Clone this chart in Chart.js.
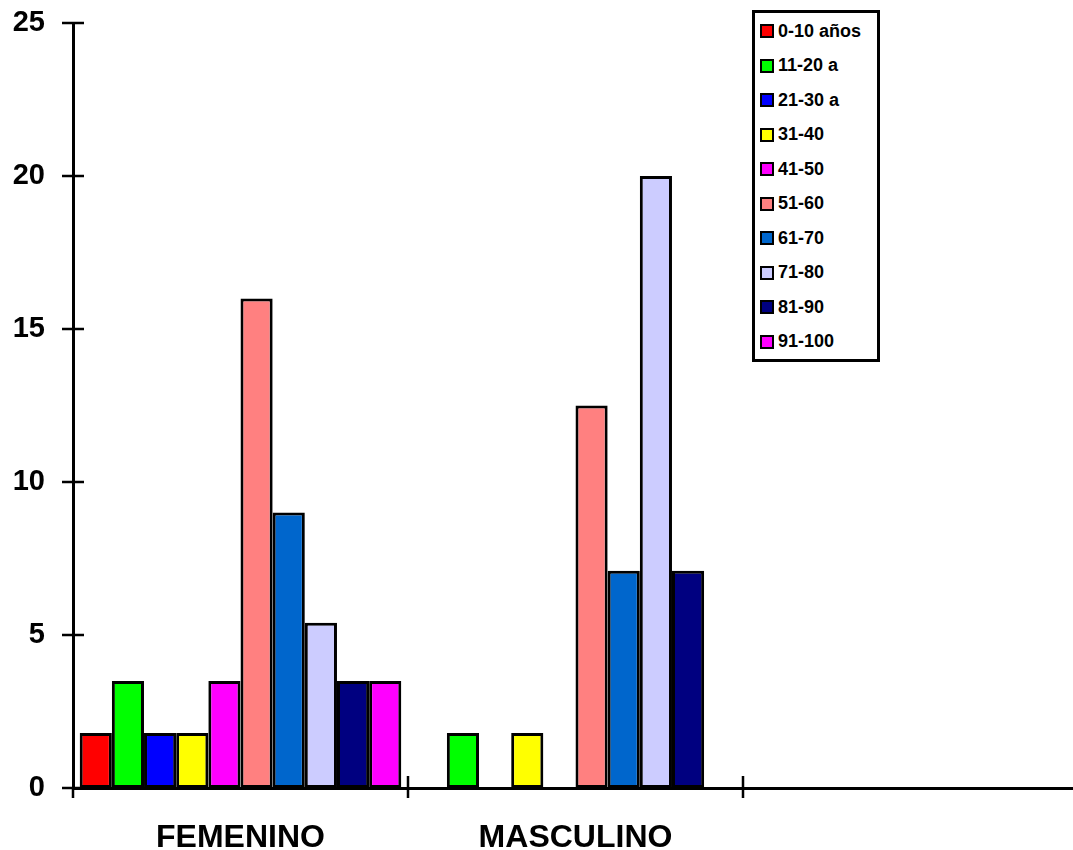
<!DOCTYPE html>
<html>
<head>
<meta charset="utf-8">
<script src="https://cdn.jsdelivr.net/npm/chart.js@4.4.0/dist/chart.umd.min.js"></script>
<style>
  body { margin: 0; overflow: hidden; background: #fff; font-family: "Liberation Sans", Arial, sans-serif; }
  #wrap { position: relative; width: 1078px; height: 850px; }
  #legend {
    position: absolute; left: 752px; top: 10px; width: 122px; height: 346px;
    border: 3px solid #000; background: #fff; box-sizing: content-box;
  }
  .item { position: absolute; left: 5px; height: 20px; display: flex; align-items: center;
    font-weight: bold; font-size: 18px; color: #000; white-space: nowrap; }
  .sw { width: 10px; height: 10px; border: 2px solid #000; margin-right: 4px; }
</style>
</head>
<body>
<div id="wrap">
  <canvas id="ageChart" width="1078" height="850"></canvas>
  <div id="legend"></div>
</div>
<script>
const groups = ['FEMENINO', 'MASCULINO', ''];
const ageRanges = ['0-10 años', '11-20 a', '21-30 a', '31-40', '41-50', '51-60', '61-70', '71-80', '81-90', '91-100'];
const barColors = ['#FF0000', '#00FF00', '#0000FF', '#FFFF00', '#FF00FF', '#FF8080', '#0066CC', '#CCCCFF', '#000080', '#FF00FF'];
// one array per sex, values per age range
const femenino = [1.8, 3.5, 1.8, 1.8, 3.5, 16, 9, 5.4, 3.5, 3.5];
const masculino = [0, 1.8, 0, 1.8, 0, 12.5, 7.1, 20, 7.1, 0];
const yTicks = [0, 5, 10, 15, 20, 25];

const datasets = ageRanges.map(function(label, i) {
    return {
        label: label,
        data: [femenino[i], masculino[i], null],
        backgroundColor: barColors[i],
        borderColor: '#000',
        borderWidth: 3,
        borderSkipped: false,
        barPercentage: 1,
        categoryPercentage: 0.96,
    };
});

// tick marks that cross the axes, like the original
const crossTicks = {
    id: 'crossTicks',
    afterDraw(chart) {
        const c = chart.ctx;
        const x = chart.scales.x, y = chart.scales.y;
        c.save();
        c.strokeStyle = '#000';
        c.lineWidth = 2.5;
        c.beginPath();
        yTicks.forEach(function(v) {
            const py = y.getPixelForValue(v);
            c.moveTo(x.left - 11, py);
            c.lineTo(x.left + 11, py);
        });
        const step = (x.right - x.left) / groups.length;
        for (let i = 0; i < groups.length; i++) {
            const px = x.left + i * step;
            c.moveTo(px, y.bottom - (i === 0 ? 0 : 12));
            c.lineTo(px, y.bottom + 10);
        }
        c.stroke();
        c.restore();
    }
};

const ctx = document.getElementById('ageChart').getContext('2d');
const ageChart = new Chart(ctx, {
    type: 'bar',
    data: { labels: groups, datasets: datasets },
    plugins: [crossTicks],
    options: {
        responsive: false,
        animation: false,
        layout: { padding: { top: 23, right: 0, left: 0, bottom: 0 } },
        plugins: { legend: { display: false }, tooltip: { enabled: false } },
        scales: {
            x: {
                grid: { display: false },
                border: { display: true, color: '#000', width: 3 },
                ticks: {
                    color: '#000',
                    font: { family: 'Liberation Sans', size: 32, weight: 'bold' },
                    padding: 23,
                    maxRotation: 0,
                },
                afterFit(scale) { scale.height = 62; scale.paddingLeft = 0; scale.paddingRight = 0; },
            },
            y: {
                min: 0,
                max: 25,
                grid: { display: false },
                border: { display: true, color: '#000', width: 3 },
                ticks: {
                    stepSize: 5,
                    color: '#000',
                    font: { family: 'Liberation Sans', size: 29, weight: 'bold' },
                    padding: 20,
                },
                afterFit(scale) { scale.width = 73; scale.paddingTop = 0; scale.paddingBottom = 0; },
            },
        },
    },
});

// html legend built from the datasets
const legendBox = document.getElementById('legend');
ageRanges.forEach(function(label, i) {
    const row = document.createElement('div');
    row.className = 'item';
    row.style.top = (8 + i * 34.5) + 'px';
    row.innerHTML = '<span class="sw" style="background:' + barColors[i] + '"></span>' + label;
    legendBox.appendChild(row);
});
</script>
</body>
</html>
